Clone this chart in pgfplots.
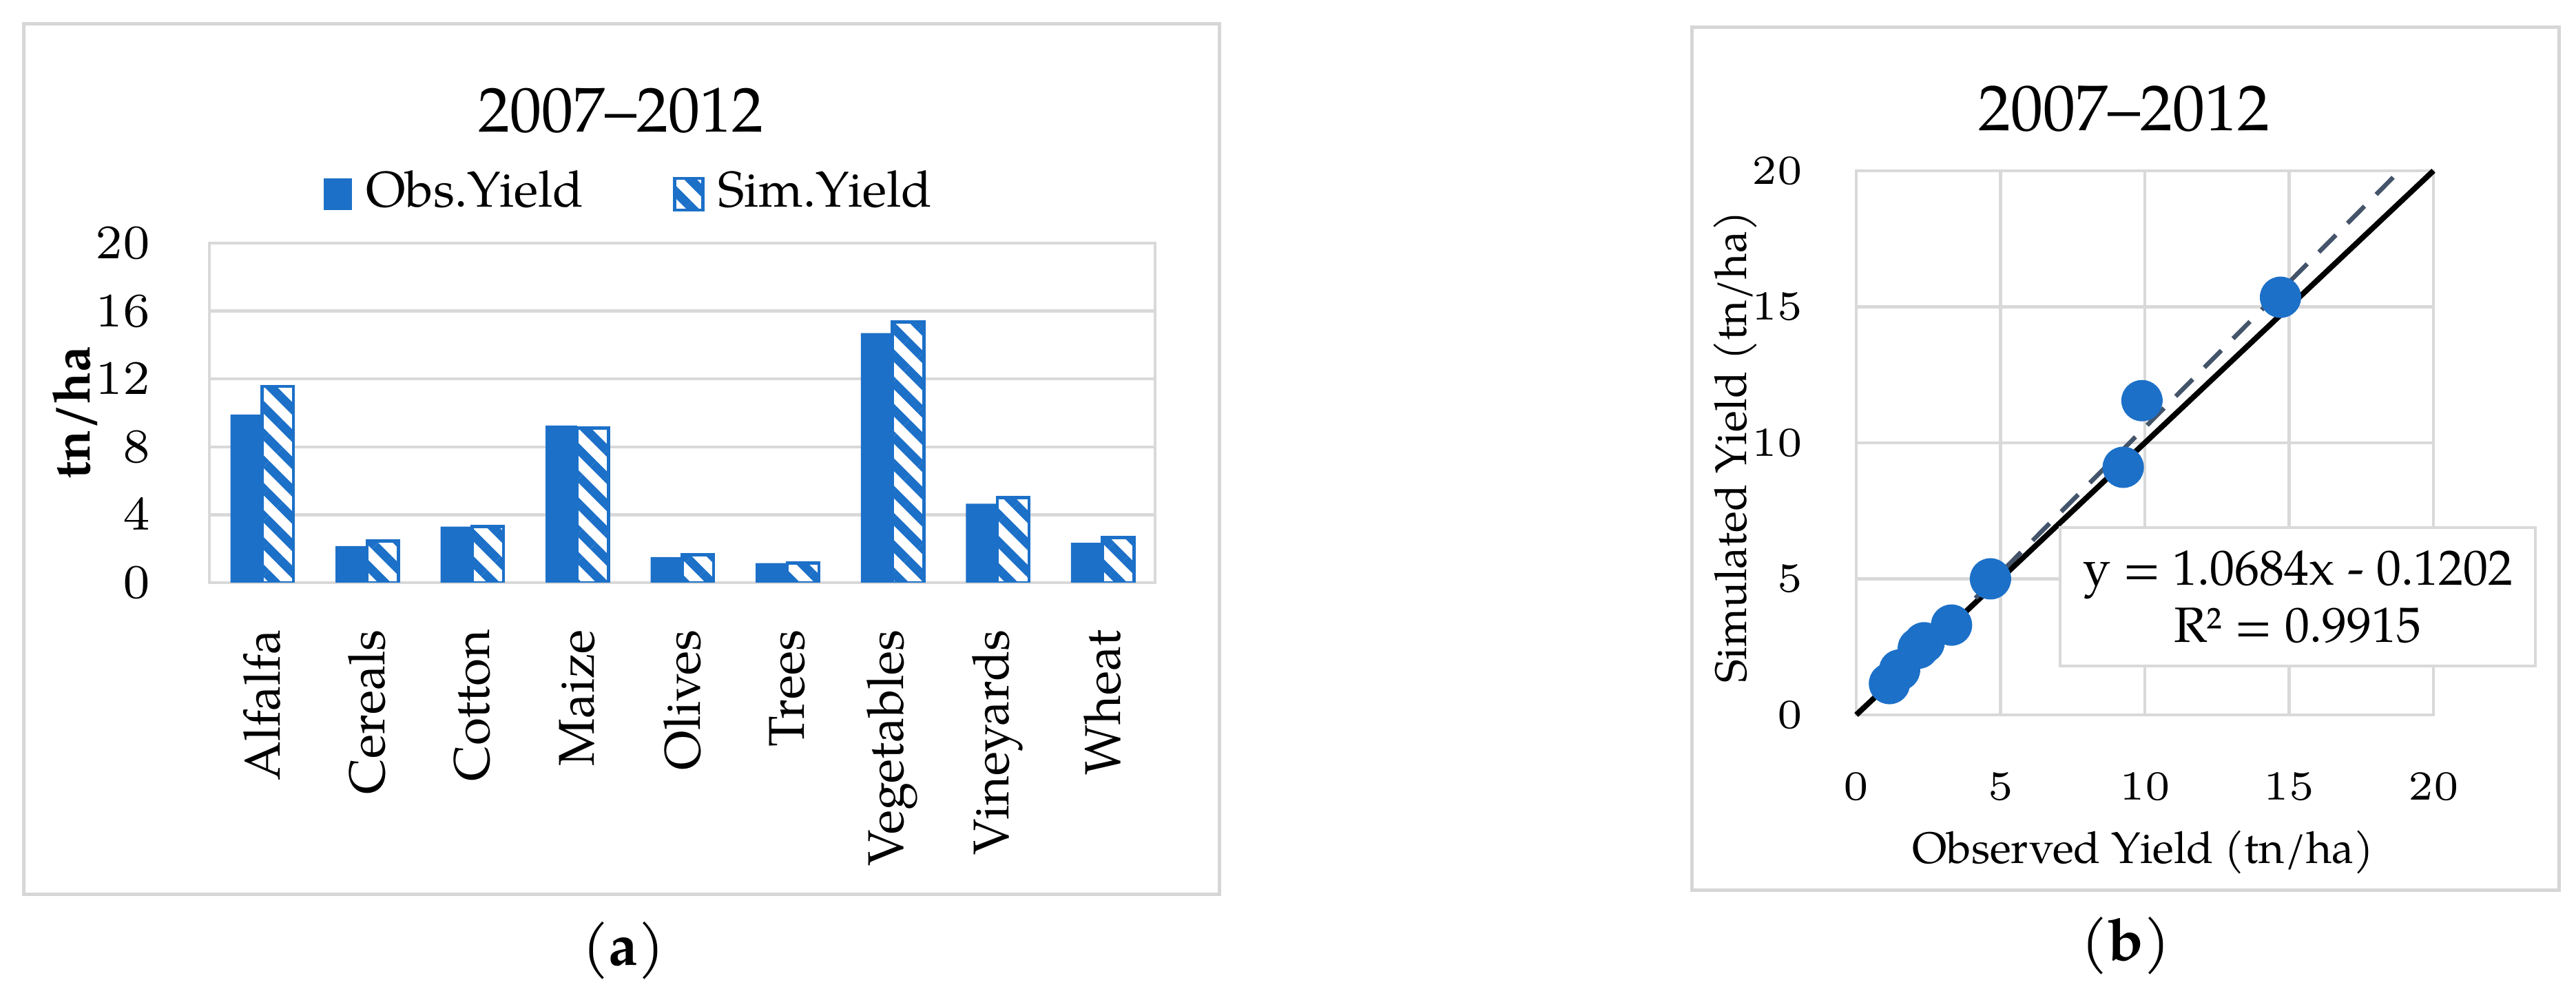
\documentclass[border=0pt]{standalone}
\usepackage{pgfplots}
\pgfplotsset{compat=1.18}
\usepackage{fontspec}
\setmainfont{TeX Gyre Pagella}
\usetikzlibrary{patterns.meta}
\definecolor{barblue}{HTML}{1C70C8}
\definecolor{gridgray}{HTML}{D9D9D9}
\definecolor{framegray}{HTML}{D6D6D6}
\definecolor{trend}{HTML}{44546A}

\pgfplotstableread{
idx obs sim
0 9.9 11.55
1 2.15 2.45
2 3.3 3.3
3 9.25 9.1
4 1.5 1.65
5 1.15 1.15
6 14.7 15.35
7 4.65 5.0
8 2.35 2.65
}\yields

\begin{document}
\begin{tikzpicture}
\useasboundingbox (0,0) rectangle (374pt,143.6pt);
% panel frames
\draw[framegray, line width=0.5pt] (3.4pt,13.7pt) rectangle (177pt,140.1pt);
\draw[framegray, line width=0.5pt] (245.6pt,14.3pt) rectangle (371.5pt,139.6pt);

% (a) bars
\begin{axis}[
  at={(30.4pt,59.0pt)}, anchor=south west,
  scale only axis, width=137.3pt, height=49.3pt,
  ybar=0pt, bar width=0.3,
  xmin=-0.5, xmax=8.5, ymin=0, ymax=20,
  xtick={0,...,8},
  xticklabels={Alfalfa,Cereals,Cotton,Maize,Olives,Trees,Vegetables,Vineyards,Wheat},
  ytick={0,4,...,20},
  ymajorgrids, grid style={draw=gridgray, line width=0.45pt},
  axis line style={draw=gridgray, line width=0.45pt},
  major tick length=0pt,
  tick label style={font=\fontsize{7.3}{8}\selectfont},
  yticklabel style={xshift=-5pt},
  xticklabel style={yshift=-3.3pt, rotate=90, anchor=east},
  ylabel={\textbf{tn/ha}},
  ylabel style={at={(axis description cs:-0.142,0.5)}, anchor=center, font=\fontsize{7.5}{8}\selectfont},
  every axis title shift=0pt,
  title={2007--2012},
  title style={at={(axis description cs:0.4355,1.391)}, anchor=center, font=\fontsize{9.2}{10}\selectfont},
  legend columns=2,
  legend style={at={(axis description cs:0.45,1.144)}, anchor=center, draw=none, fill=none,
    font=\fontsize{7.3}{8}\selectfont,
    /tikz/every even column/.append style={column sep=11pt}},
  legend image code/.code={\path[#1] (0pt,-2.3pt) rectangle (4.1pt,2.3pt);},
]
\addplot[fill=barblue, draw=none] table[x=idx, y=obs] {\yields};
\addlegendentry{Obs.Yield}
\addplot[fill=white, draw=barblue, line width=0.45pt,
  postaction={pattern={Lines[angle=-45, distance=2.8pt, line width=1.3pt]}, pattern color=barblue}]
  table[x=idx, y=sim] {\yields};
\addlegendentry{Sim.Yield}
\end{axis}

% (b) scatter
\begin{axis}[
  at={(269.5pt,39.8pt)}, anchor=south west,
  scale only axis, width=83.8pt, height=79pt,
  xmin=0, xmax=20, ymin=0, ymax=20,
  xtick={0,5,...,20}, ytick={0,5,...,20},
  grid=major, grid style={draw=gridgray, line width=0.45pt},
  axis line style={draw=gridgray, line width=0.45pt},
  major tick length=0pt,
  tick label style={font=\fontsize{6.2}{7}\selectfont},
  yticklabel style={xshift=-4.3pt},
  xticklabel style={yshift=-5pt},
  xlabel={Observed Yield (tn/ha)},
  xlabel style={at={(axis description cs:0.497,-0.252)}, anchor=center, font=\fontsize{6.4}{7}\selectfont},
  ylabel={Simulated Yield (tn/ha)},
  ylabel style={at={(axis description cs:-0.209,0.492)}, anchor=center, font=\fontsize{6.4}{7}\selectfont},
  every axis title shift=0pt,
  title={2007--2012},
  title style={at={(axis description cs:0.464,1.114)}, anchor=center, font=\fontsize{9.4}{10}\selectfont},
  clip=false,
]
\addplot[barblue, only marks, mark=*, mark size=2.8pt, mark options={fill=barblue, draw=barblue}]
  table[x=obs, y=sim] {\yields};
\addplot[black, line width=0.8pt] coordinates {(0,0) (20,20)};
\addplot[trend, line width=0.65pt, dash pattern=on 3.5pt off 2.4pt] coordinates {(1.15,1.108) (18.83,20)};
\end{axis}

\node[draw=gridgray, line width=0.4pt, fill=white, minimum width=55.6pt, minimum height=18.4pt,
  align=center, font=\fontsize{7.2}{8.3}\selectfont] at (333.6pt,56.9pt)
  {y = 1.0684x - 0.1202\\R² = 0.9915};

% captions
\node[font=\fontsize{8.5}{9}\selectfont] at (90.5pt,5.6pt) {(\textbf{a})};
\node[font=\fontsize{8.5}{9}\selectfont] at (308.6pt,6.3pt) {(\textbf{b})};
\end{tikzpicture}
\end{document}
